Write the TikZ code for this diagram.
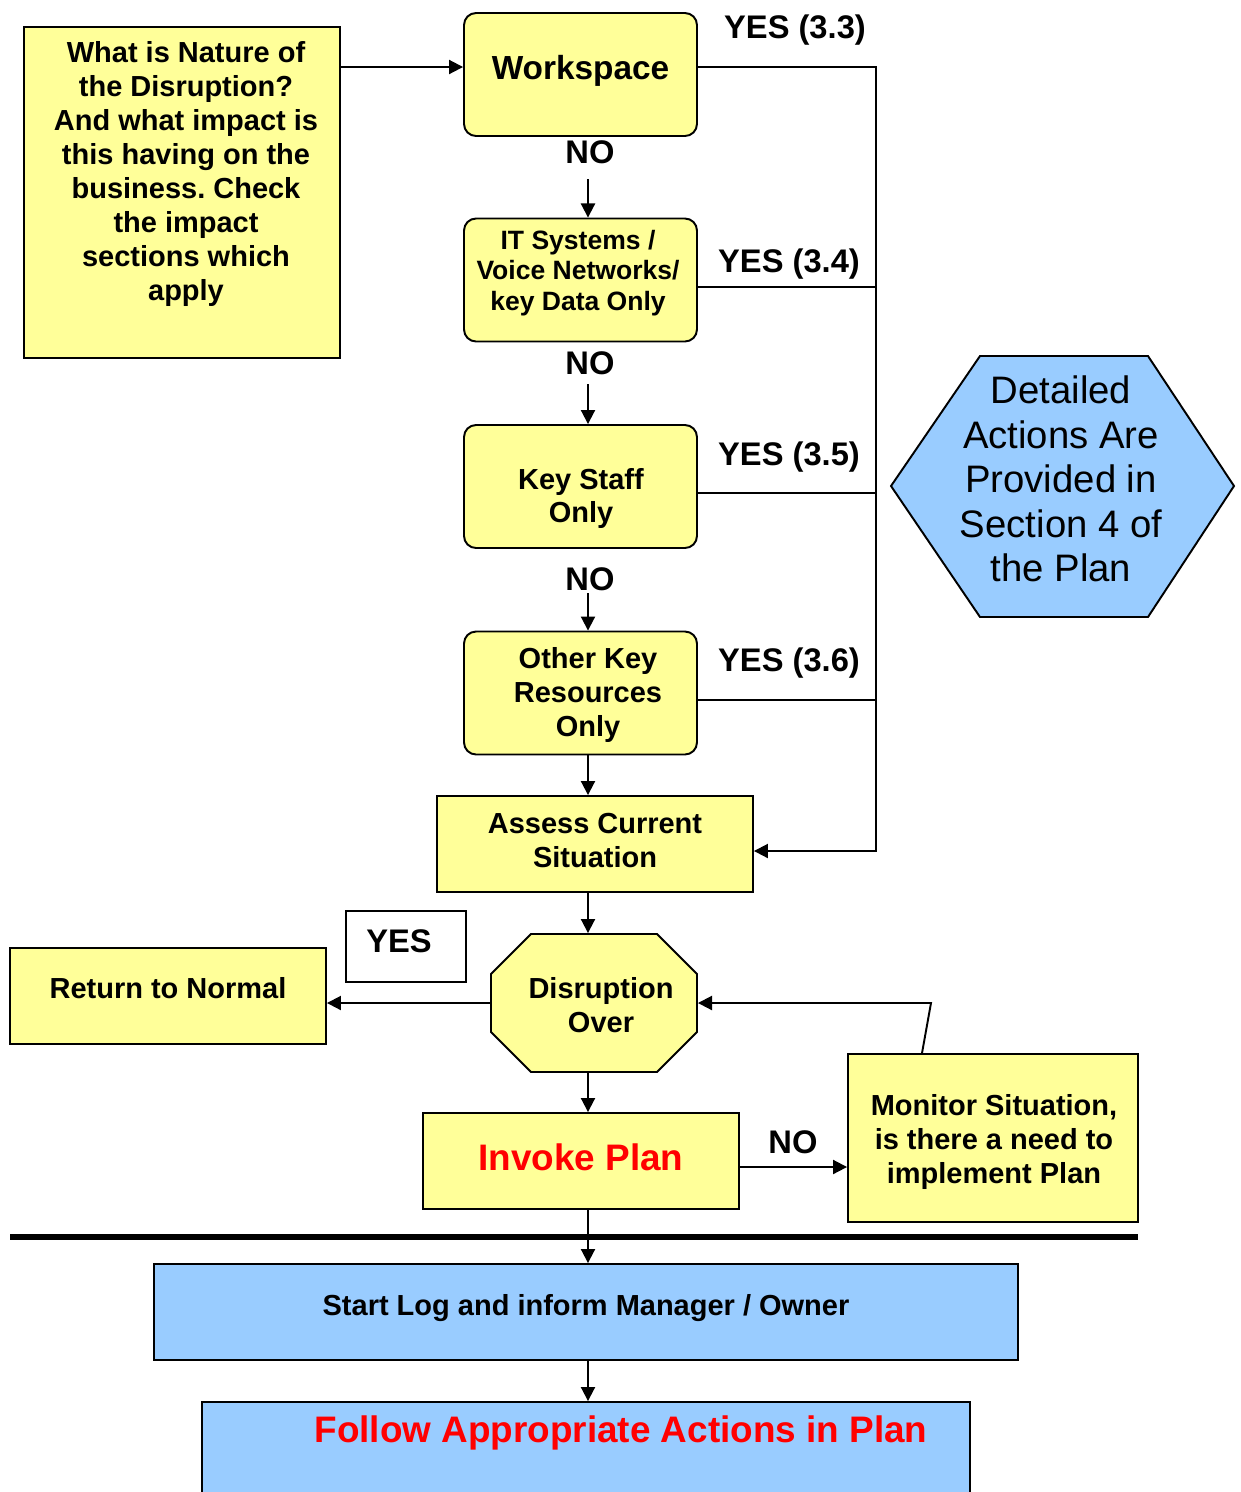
\documentclass[tikz,border=0pt]{standalone}
\usepackage{fontspec}
\setmainfont{Liberation Sans}
\frenchspacing
\usetikzlibrary{arrows.meta}

\definecolor{paleyellow}{HTML}{FFFF99}
\definecolor{paleblue}{HTML}{99CCFF}

\newcommand{\boxfont}{\bfseries\fontsize{16.5}{19.3}\selectfont}
\newcommand{\itfont}{\bfseries\fontsize{15.1}{17.4}\selectfont}
\newcommand{\workfont}{\bfseries\fontsize{19}{22}\selectfont}
\newcommand{\ansfont}{\bfseries\fontsize{18.6}{22}\selectfont}
\newcommand{\bigfont}{\bfseries\fontsize{21}{24}\selectfont}
\newcommand{\hexfont}{\fontsize{21.8}{25.3}\selectfont}

\begin{document}
\begin{tikzpicture}[x=0.02cm,y=-0.02cm,line width=1.1pt,
  >={Triangle[length=8pt,width=8pt]},
  rbox/.style={draw,fill=paleyellow,rounded corners=0.24cm,minimum width=4.66cm,minimum height=2.46cm,align=center,font=\boxfont},
  ybox/.style={draw,fill=paleyellow,minimum height=1.92cm,align=center,font=\boxfont},
  bbox/.style={draw,fill=paleblue,minimum height=1.92cm,align=center,font=\boxfont},
  txt/.style={align=center,font=\boxfont},
  ans/.style={font=\ansfont,inner sep=1pt,text depth=0pt}]
\useasboundingbox (0,0) rectangle (1241,1492);

%helper coordinates
\coordinate (spine) at (588,0);
\coordinate (wline) at (0,67);
\coordinate (busend) at (876,851);

%question box
\node[ybox,minimum width=6.32cm,minimum height=6.62cm] (nature) at (182,192.5) {};
\node[txt] (naturetxt) at (186,174) {What is Nature of\\the Disruption?\\And what impact is\\this having on the\\business. Check\\the impact\\sections which\\apply};

%impact boxes
\node[rbox,font=\workfont,text depth=0.28cm] (work) at (580.5,74.5) {Workspace};
\node[rbox] (it) at (580.5,280) {};
\node[txt,font=\itfont] (ittxt) at (578,273) {IT Systems /\\Voice Networks/\\key Data Only};
\node[rbox] (key) at (580.5,486.5) {};
\node[txt] (keytxt) at (581,498.5) {Key Staff\\Only};
\node[rbox] (other) at (580.5,693) {};
\node[txt] (othertxt) at (588,695) {Other Key\\Resources\\Only};
\node[ybox,minimum width=6.32cm] (assess) at (595,844) {};
\node[txt] (assesstxt) at (595,840.5) {Assess Current\\Situation};

%answers
\node[ans] (no1) at (590,152) {NO};
\node[ans] (no2) at (590,363) {NO};
\node[ans] (no3) at (590,579) {NO};
\node[ans] (yes1) at (795,27) {YES (3.3)};
\node[ans] (yes2) at (789,261) {YES (3.4)};
\node[ans] (yes3) at (789,454) {YES (3.5)};
\node[ans] (yes4) at (789,660) {YES (3.6)};

%detail hexagon
\draw[fill=paleblue] (891,486) -- (980,356) -- (1148,356) -- (1234,486) -- (1148,617) -- (980,617) -- cycle;
\node[align=center,font=\hexfont] (detail) at (1061,479) {Detailed\\Actions Are\\Provided in\\Section 4 of\\the Plan};

%disruption over octagon
\draw[fill=paleyellow] (531,934) -- (657,934) -- (697,974) -- (697,1032) -- (657,1072) -- (531,1072) -- (491,1032) -- (491,974) -- cycle;
\node[minimum width=4.12cm,minimum height=2.76cm] (over) at (594,1003) {};
\node[txt] (overtxt) at (601,1005) {Disruption\\Over};

\node[draw,fill=white,line width=0.8pt,minimum width=2.4cm,minimum height=1.42cm] (yesbox) at (406,946.5) {};
\node[ans] (yes5) at (399,941) {YES};
\node[ybox,minimum width=6.32cm,text depth=0.32cm] (ret) at (168,996) {Return to Normal};
\node[ybox,minimum width=6.32cm,font=\bigfont,text=red,text depth=0.16cm] (invoke) at (581,1161) {Invoke Plan};
\node[ybox,minimum width=5.8cm,minimum height=3.36cm] (mon) at (993,1138) {};
\node[txt] (montxt) at (994,1142) {Monitor Situation,\\is there a need to\\implement Plan};
\node[ans] (no4) at (793,1142) {NO};

%after invoking
\node[bbox,minimum width=17.28cm,text depth=0.28cm] (start) at (586,1312) {Start Log and inform Manager / Owner};
\node[bbox,minimum width=15.36cm,minimum height=1.96cm] (follow) at (586,1451) {};
\node[font=\bigfont,text=red] (followtxt) at (621,1433) {Follow Appropriate Actions in Plan};

%separator
\coordinate (sepl) at (10,1237);
\coordinate (sepr) at (1138,1237);
\draw[line width=3.4pt] (sepl) -- (sepr);

%connectors
\draw[->] (nature.east |- wline) -- (work.west |- wline);
\draw[->] (work.east |- wline) -| (busend) -- (assess.east |- busend);
\coordinate (ityes) at ([yshift=-0.14cm]it.east);
\coordinate (keyyes) at ([yshift=-0.13cm]key.east);
\coordinate (otheryes) at ([yshift=-0.14cm]other.east);
\draw (ityes) -- (ityes -| busend);
\draw (keyyes) -- (keyyes -| busend);
\draw (otheryes) -- (otheryes -| busend);

\draw[->] (no1.south -| spine) ++(0,13) -- (it.north -| spine);
\draw[->] (no2.south -| spine) ++(0,7) -- (key.north -| spine);
\draw[->] (no3.south -| spine) -- (other.north -| spine);
\draw[->] (other.south -| spine) -- (assess.north -| spine);
\draw[->] (assess.south -| spine) -- (over.north -| spine);
\draw[->] (over.west) -- (ret.east |- over.west);
\draw[->] (over.south -| spine) -- (invoke.north -| spine);
\coordinate (invno) at ([yshift=-0.12cm]invoke.east);
\draw[->] (invno) -- (mon.west |- invno);
\coordinate (monup) at ([xshift=-1.42cm]mon.north);
\coordinate (monbend) at (931,1003);
\draw[->] (monup) -- (monbend) -- (over.east |- monbend);
\draw[->] (invoke.south -| spine) -- (start.north -| spine);
\draw[->] (start.south -| spine) -- (follow.north -| spine);
\end{tikzpicture}
\end{document}
